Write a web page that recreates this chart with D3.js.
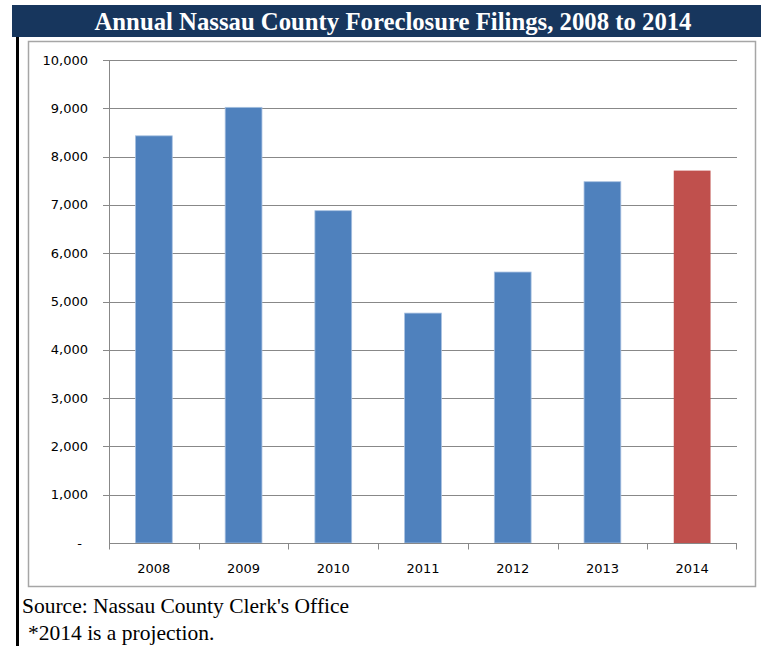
<!DOCTYPE html>
<html>
<head>
<meta charset="utf-8">
<script src="https://cdn.jsdelivr.net/npm/d3@7"></script>
<style>
	body { margin: 0; background: #fff; }
	svg { display: block; }
</style>
</head>
<body>
<div id="chart"></div>
<script>
var years = ['2008', '2009', '2010', '2011', '2012', '2013', '2014'];
var filings = [8430, 9020, 6880, 4760, 5610, 7480, 7710];
var projected = [false, false, false, false, false, false, true];
var yTicks = [0, 1000, 2000, 3000, 4000, 5000, 6000, 7000, 8000, 9000, 10000];

var W = 761, H = 646;
var plot = { left: 109, right: 737, top: 60, bottom: 543 };

var svg = d3.select('#chart').append('svg')
	.attr('width', W)
	.attr('height', H);

// title band
svg.append('rect')
	.attr('x', 12).attr('y', 5)
	.attr('width', W - 12).attr('height', 32)
	.attr('fill', '#17365d');

svg.append('text')
	.attr('x', 393).attr('y', 30)
	.attr('text-anchor', 'middle')
	.attr('fill', '#fff')
	.attr('font-family', '"Liberation Serif", "Times New Roman", serif')
	.attr('font-weight', 'bold')
	.attr('font-size', 26)
	.attr('textLength', 597)
	.attr('lengthAdjust', 'spacingAndGlyphs')
	.text('Annual Nassau County Foreclosure Filings, 2008 to 2014');

// left black rule
svg.append('rect')
	.attr('x', 16).attr('y', 37)
	.attr('width', 3).attr('height', H - 37)
	.attr('fill', '#000');

// chart frame
svg.append('rect')
	.attr('x', 28.5).attr('y', 41.5)
	.attr('width', 727).attr('height', 545)
	.attr('fill', '#fff')
	.attr('stroke', '#a6a6a6')
	.attr('stroke-width', 1.5);

var x = d3.scaleBand()
	.domain(years)
	.range([plot.left, plot.right])
	.paddingInner(0.59)
	.paddingOuter(0.295);

var xCat = d3.scaleBand()
	.domain(years)
	.range([plot.left, plot.right]);

var y = d3.scaleLinear()
	.domain([0, 10000])
	.range([plot.bottom, plot.top]);

// grid lines + left ticks
svg.append('g')
	.selectAll('line')
	.data(yTicks.slice(1))
	.enter().append('line')
	.attr('x1', plot.left - 6).attr('x2', plot.right)
	.attr('y1', function (d) { return Math.round(y(d)) + 0.5; })
	.attr('y2', function (d) { return Math.round(y(d)) + 0.5; })
	.attr('stroke', '#888')
	.attr('stroke-width', 1);

// y labels
svg.append('g')
	.selectAll('text')
	.data(yTicks)
	.enter().append('text')
	.attr('x', function (d) { return d === 0 ? 82 : 88; })
	.attr('y', function (d) { return y(d); })
	.attr('dy', '0.35em')
	.attr('text-anchor', 'end')
	.attr('font-family', '"DejaVu Sans", Verdana, sans-serif')
	.attr('font-size', 13)
	.attr('fill', '#000')
	.text(function (d) { return d === 0 ? '-' : d3.format(',')(d); });

// bars
svg.append('g')
	.selectAll('rect')
	.data(years)
	.enter().append('rect')
	.attr('x', function (d) { return x(d); })
	.attr('width', x.bandwidth())
	.attr('y', function (d, i) { return y(filings[i]); })
	.attr('height', function (d, i) { return plot.bottom - y(filings[i]); })
	.attr('fill', function (d, i) { return projected[i] ? '#c0504d' : '#4f81bd'; })
	.attr('stroke', function (d, i) { return projected[i] ? 'none' : '#a7c0e0'; })
	.attr('stroke-width', 0.8);

// y axis line
svg.append('line')
	.attr('x1', plot.left + 0.5).attr('x2', plot.left + 0.5)
	.attr('y1', plot.top).attr('y2', plot.bottom + 6)
	.attr('stroke', '#888');

// x axis
var xAxis = svg.append('g')
	.attr('transform', 'translate(0,' + (plot.bottom + 0.5) + ')');

xAxis.append('line')
	.attr('x1', plot.left).attr('x2', plot.right)
	.attr('stroke', '#888');

xAxis.selectAll('line.tick')
	.data(years.concat(['end']))
	.enter().append('line')
	.attr('class', 'tick')
	.attr('x1', function (d) { return d === 'end' ? plot.right - 0.5 : Math.round(xCat(d)) + 0.5; })
	.attr('x2', function (d) { return d === 'end' ? plot.right - 0.5 : Math.round(xCat(d)) + 0.5; })
	.attr('y1', 0).attr('y2', 6)
	.attr('stroke', '#888');

xAxis.selectAll('text')
	.data(years)
	.enter().append('text')
	.attr('x', function (d) { return xCat(d) + xCat.bandwidth() / 2; })
	.attr('y', 29)
	.attr('text-anchor', 'middle')
	.attr('font-family', '"DejaVu Sans", Verdana, sans-serif')
	.attr('font-size', 13)
	.attr('fill', '#000')
	.text(function (d) { return d; });

// footnotes
var serif = '"Liberation Serif", "Times New Roman", serif';
svg.append('text')
	.attr('x', 22).attr('y', 613)
	.attr('font-family', serif)
	.attr('font-size', 21.5)
	.text("Source: Nassau County Clerk's Office");

svg.append('text')
	.attr('x', 28).attr('y', 640)
	.attr('font-family', serif)
	.attr('font-size', 21.5)
	.text('*2014 is a projection.');
</script>
</body>
</html>
